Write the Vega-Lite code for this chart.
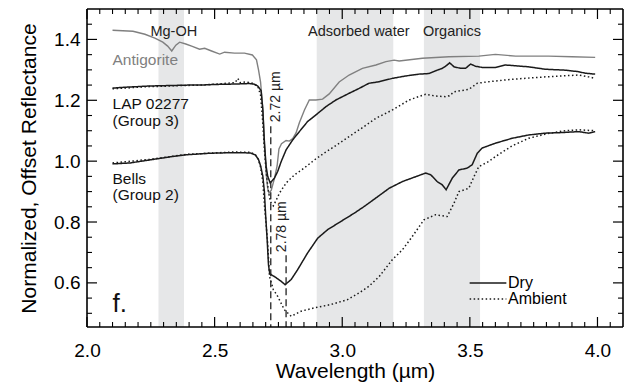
{
  "$schema": "https://vega.github.io/schema/vega-lite/v6.json",
  "width": 536,
  "height": 318,
  "autosize": "none",
  "padding": {"left": 87, "top": 9, "right": 6, "bottom": 59},
  "config": {
    "font": "Liberation Sans",
    "view": {"stroke": null},
    "axis": {
      "domain": false, "ticks": false,
      "labelFontSize": 19, "labelColor": "#000", "titleFontSize": 21, "titleFontWeight": "normal",
      "titleColor": "#000", "grid": false, "labelFlush": false, "labelOverlap": false, "labelBound": false
    }
  },
  "datasets": {
    "bands": [
      {"feature": "Mg-OH", "start": 2.28, "end": 2.38},
      {"feature": "Adsorbed water", "start": 2.9, "end": 3.2},
      {"feature": "Organics", "start": 3.32, "end": 3.54}
    ],
    "bandLabels": [
      {"label": "Mg-OH", "wl": 2.34, "y": 1.425},
      {"label": "Adsorbed water", "wl": 3.065, "y": 1.425},
      {"label": "Organics", "wl": 3.43, "y": 1.425}
    ],
    "xticks": [
      {"wl": 2.0, "kind": "major"}, {"wl": 2.05, "kind": "minor"}, {"wl": 2.1, "kind": "minor"}, {"wl": 2.15, "kind": "minor"},
      {"wl": 2.2, "kind": "minor"}, {"wl": 2.25, "kind": "minor"}, {"wl": 2.3, "kind": "minor"}, {"wl": 2.35, "kind": "minor"},
      {"wl": 2.4, "kind": "minor"}, {"wl": 2.45, "kind": "minor"}, {"wl": 2.5, "kind": "major"}, {"wl": 2.55, "kind": "minor"},
      {"wl": 2.6, "kind": "minor"}, {"wl": 2.65, "kind": "minor"}, {"wl": 2.7, "kind": "minor"}, {"wl": 2.75, "kind": "minor"},
      {"wl": 2.8, "kind": "minor"}, {"wl": 2.85, "kind": "minor"}, {"wl": 2.9, "kind": "minor"}, {"wl": 2.95, "kind": "minor"},
      {"wl": 3.0, "kind": "major"}, {"wl": 3.05, "kind": "minor"}, {"wl": 3.1, "kind": "minor"}, {"wl": 3.15, "kind": "minor"},
      {"wl": 3.2, "kind": "minor"}, {"wl": 3.25, "kind": "minor"}, {"wl": 3.3, "kind": "minor"}, {"wl": 3.35, "kind": "minor"},
      {"wl": 3.4, "kind": "minor"}, {"wl": 3.45, "kind": "minor"}, {"wl": 3.5, "kind": "major"}, {"wl": 3.55, "kind": "minor"},
      {"wl": 3.6, "kind": "minor"}, {"wl": 3.65, "kind": "minor"}, {"wl": 3.7, "kind": "minor"}, {"wl": 3.75, "kind": "minor"},
      {"wl": 3.8, "kind": "minor"}, {"wl": 3.85, "kind": "minor"}, {"wl": 3.9, "kind": "minor"}, {"wl": 3.95, "kind": "minor"},
      {"wl": 4.0, "kind": "major"}, {"wl": 4.05, "kind": "minor"}
    ],
    "yticks": [
      {"r": 0.5, "kind": "minor"}, {"r": 0.55, "kind": "minor"}, {"r": 0.6, "kind": "major"}, {"r": 0.65, "kind": "minor"},
      {"r": 0.7, "kind": "minor"}, {"r": 0.75, "kind": "minor"}, {"r": 0.8, "kind": "major"}, {"r": 0.85, "kind": "minor"},
      {"r": 0.9, "kind": "minor"}, {"r": 0.95, "kind": "minor"}, {"r": 1.0, "kind": "major"}, {"r": 1.05, "kind": "minor"},
      {"r": 1.1, "kind": "minor"}, {"r": 1.15, "kind": "minor"}, {"r": 1.2, "kind": "major"}, {"r": 1.25, "kind": "minor"},
      {"r": 1.3, "kind": "minor"}, {"r": 1.35, "kind": "minor"}, {"r": 1.4, "kind": "major"}, {"r": 1.45, "kind": "minor"}
    ],
    "antigorite": [
      {"wl": 2.1, "refl": 1.43}, {"wl": 2.18, "refl": 1.427}, {"wl": 2.227, "refl": 1.417}, {"wl": 2.266, "refl": 1.404},
      {"wl": 2.297, "refl": 1.391}, {"wl": 2.316, "refl": 1.378}, {"wl": 2.332, "refl": 1.362}, {"wl": 2.348, "refl": 1.381},
      {"wl": 2.363, "refl": 1.391}, {"wl": 2.387, "refl": 1.385}, {"wl": 2.41, "refl": 1.378}, {"wl": 2.441, "refl": 1.368},
      {"wl": 2.461, "refl": 1.371}, {"wl": 2.488, "refl": 1.362}, {"wl": 2.52, "refl": 1.352}, {"wl": 2.539, "refl": 1.358},
      {"wl": 2.578, "refl": 1.355}, {"wl": 2.617, "refl": 1.355}, {"wl": 2.648, "refl": 1.349}, {"wl": 2.664, "refl": 1.333},
      {"wl": 2.672, "refl": 1.3}, {"wl": 2.68, "refl": 1.26}, {"wl": 2.688, "refl": 1.18}, {"wl": 2.695, "refl": 1.07},
      {"wl": 2.702, "refl": 0.96}, {"wl": 2.708, "refl": 0.91}, {"wl": 2.713, "refl": 0.895}, {"wl": 2.722, "refl": 0.905},
      {"wl": 2.735, "refl": 0.945}, {"wl": 2.745, "refl": 0.985}, {"wl": 2.752, "refl": 1.04}, {"wl": 2.762, "refl": 1.057},
      {"wl": 2.78, "refl": 1.068}, {"wl": 2.793, "refl": 1.066}, {"wl": 2.806, "refl": 1.074}, {"wl": 2.819, "refl": 1.093},
      {"wl": 2.832, "refl": 1.126}, {"wl": 2.852, "refl": 1.168}, {"wl": 2.871, "refl": 1.201}, {"wl": 2.897, "refl": 1.201},
      {"wl": 2.923, "refl": 1.204}, {"wl": 2.949, "refl": 1.221}, {"wl": 2.988, "refl": 1.26}, {"wl": 3.027, "refl": 1.283},
      {"wl": 3.079, "refl": 1.305}, {"wl": 3.132, "refl": 1.316}, {"wl": 3.171, "refl": 1.327}, {"wl": 3.203, "refl": 1.332},
      {"wl": 3.223, "refl": 1.329}, {"wl": 3.314, "refl": 1.338}, {"wl": 3.418, "refl": 1.343}, {"wl": 3.535, "refl": 1.345},
      {"wl": 3.6, "refl": 1.351}, {"wl": 3.679, "refl": 1.345}, {"wl": 3.808, "refl": 1.345}, {"wl": 3.9, "refl": 1.343},
      {"wl": 3.991, "refl": 1.341}
    ],
    "spectra": [
      {"sample": "LAP 02277", "cond": "Dry", "wl": 2.1, "refl": 1.24},
      {"sample": "LAP 02277", "cond": "Dry", "wl": 2.15, "refl": 1.243},
      {"sample": "LAP 02277", "cond": "Dry", "wl": 2.2, "refl": 1.245},
      {"sample": "LAP 02277", "cond": "Dry", "wl": 2.246, "refl": 1.247},
      {"sample": "LAP 02277", "cond": "Dry", "wl": 2.3, "refl": 1.248},
      {"sample": "LAP 02277", "cond": "Dry", "wl": 2.35, "refl": 1.249},
      {"sample": "LAP 02277", "cond": "Dry", "wl": 2.4, "refl": 1.25},
      {"sample": "LAP 02277", "cond": "Dry", "wl": 2.441, "refl": 1.25},
      {"sample": "LAP 02277", "cond": "Dry", "wl": 2.5, "refl": 1.252},
      {"sample": "LAP 02277", "cond": "Dry", "wl": 2.559, "refl": 1.253},
      {"sample": "LAP 02277", "cond": "Dry", "wl": 2.6, "refl": 1.254},
      {"sample": "LAP 02277", "cond": "Dry", "wl": 2.637, "refl": 1.255},
      {"sample": "LAP 02277", "cond": "Dry", "wl": 2.655, "refl": 1.253},
      {"sample": "LAP 02277", "cond": "Dry", "wl": 2.669, "refl": 1.247},
      {"sample": "LAP 02277", "cond": "Dry", "wl": 2.682, "refl": 1.232},
      {"sample": "LAP 02277", "cond": "Dry", "wl": 2.689, "refl": 1.168},
      {"sample": "LAP 02277", "cond": "Dry", "wl": 2.695, "refl": 1.06},
      {"sample": "LAP 02277", "cond": "Dry", "wl": 2.702, "refl": 0.982},
      {"sample": "LAP 02277", "cond": "Dry", "wl": 2.708, "refl": 0.95},
      {"sample": "LAP 02277", "cond": "Dry", "wl": 2.718, "refl": 0.928},
      {"sample": "LAP 02277", "cond": "Dry", "wl": 2.734, "refl": 0.944},
      {"sample": "LAP 02277", "cond": "Dry", "wl": 2.747, "refl": 0.966},
      {"sample": "LAP 02277", "cond": "Dry", "wl": 2.761, "refl": 0.999},
      {"sample": "LAP 02277", "cond": "Dry", "wl": 2.78, "refl": 1.037},
      {"sample": "LAP 02277", "cond": "Dry", "wl": 2.806, "refl": 1.07},
      {"sample": "LAP 02277", "cond": "Dry", "wl": 2.832, "refl": 1.097},
      {"sample": "LAP 02277", "cond": "Dry", "wl": 2.864, "refl": 1.13},
      {"sample": "LAP 02277", "cond": "Dry", "wl": 2.897, "refl": 1.152},
      {"sample": "LAP 02277", "cond": "Dry", "wl": 2.936, "refl": 1.179},
      {"sample": "LAP 02277", "cond": "Dry", "wl": 2.975, "refl": 1.201},
      {"sample": "LAP 02277", "cond": "Dry", "wl": 3.027, "refl": 1.223},
      {"sample": "LAP 02277", "cond": "Dry", "wl": 3.066, "refl": 1.239},
      {"sample": "LAP 02277", "cond": "Dry", "wl": 3.105, "refl": 1.256},
      {"sample": "LAP 02277", "cond": "Dry", "wl": 3.145, "refl": 1.261},
      {"sample": "LAP 02277", "cond": "Dry", "wl": 3.196, "refl": 1.272},
      {"sample": "LAP 02277", "cond": "Dry", "wl": 3.249, "refl": 1.28},
      {"sample": "LAP 02277", "cond": "Dry", "wl": 3.301, "refl": 1.286},
      {"sample": "LAP 02277", "cond": "Dry", "wl": 3.34, "refl": 1.288},
      {"sample": "LAP 02277", "cond": "Dry", "wl": 3.366, "refl": 1.297},
      {"sample": "LAP 02277", "cond": "Dry", "wl": 3.392, "refl": 1.305},
      {"sample": "LAP 02277", "cond": "Dry", "wl": 3.405, "refl": 1.312},
      {"sample": "LAP 02277", "cond": "Dry", "wl": 3.421, "refl": 1.323},
      {"sample": "LAP 02277", "cond": "Dry", "wl": 3.438, "refl": 1.31},
      {"sample": "LAP 02277", "cond": "Dry", "wl": 3.464, "refl": 1.305},
      {"sample": "LAP 02277", "cond": "Dry", "wl": 3.483, "refl": 1.305},
      {"sample": "LAP 02277", "cond": "Dry", "wl": 3.503, "refl": 1.319},
      {"sample": "LAP 02277", "cond": "Dry", "wl": 3.522, "refl": 1.312},
      {"sample": "LAP 02277", "cond": "Dry", "wl": 3.548, "refl": 1.308},
      {"sample": "LAP 02277", "cond": "Dry", "wl": 3.6, "refl": 1.308},
      {"sample": "LAP 02277", "cond": "Dry", "wl": 3.639, "refl": 1.316},
      {"sample": "LAP 02277", "cond": "Dry", "wl": 3.73, "refl": 1.31},
      {"sample": "LAP 02277", "cond": "Dry", "wl": 3.796, "refl": 1.302},
      {"sample": "LAP 02277", "cond": "Dry", "wl": 3.874, "refl": 1.299},
      {"sample": "LAP 02277", "cond": "Dry", "wl": 3.926, "refl": 1.294},
      {"sample": "LAP 02277", "cond": "Dry", "wl": 3.952, "refl": 1.289},
      {"sample": "LAP 02277", "cond": "Dry", "wl": 3.991, "refl": 1.286},
      {"sample": "LAP 02277", "cond": "Ambient", "wl": 2.1, "refl": 1.238},
      {"sample": "LAP 02277", "cond": "Ambient", "wl": 2.15, "refl": 1.24},
      {"sample": "LAP 02277", "cond": "Ambient", "wl": 2.2, "refl": 1.243},
      {"sample": "LAP 02277", "cond": "Ambient", "wl": 2.246, "refl": 1.245},
      {"sample": "LAP 02277", "cond": "Ambient", "wl": 2.3, "refl": 1.246},
      {"sample": "LAP 02277", "cond": "Ambient", "wl": 2.35, "refl": 1.248},
      {"sample": "LAP 02277", "cond": "Ambient", "wl": 2.4, "refl": 1.249},
      {"sample": "LAP 02277", "cond": "Ambient", "wl": 2.45, "refl": 1.25},
      {"sample": "LAP 02277", "cond": "Ambient", "wl": 2.5, "refl": 1.253},
      {"sample": "LAP 02277", "cond": "Ambient", "wl": 2.55, "refl": 1.256},
      {"sample": "LAP 02277", "cond": "Ambient", "wl": 2.58, "refl": 1.258},
      {"sample": "LAP 02277", "cond": "Ambient", "wl": 2.591, "refl": 1.272},
      {"sample": "LAP 02277", "cond": "Ambient", "wl": 2.6, "refl": 1.258},
      {"sample": "LAP 02277", "cond": "Ambient", "wl": 2.62, "refl": 1.26},
      {"sample": "LAP 02277", "cond": "Ambient", "wl": 2.645, "refl": 1.257},
      {"sample": "LAP 02277", "cond": "Ambient", "wl": 2.669, "refl": 1.247},
      {"sample": "LAP 02277", "cond": "Ambient", "wl": 2.68, "refl": 1.217},
      {"sample": "LAP 02277", "cond": "Ambient", "wl": 2.688, "refl": 1.135},
      {"sample": "LAP 02277", "cond": "Ambient", "wl": 2.695, "refl": 1.037},
      {"sample": "LAP 02277", "cond": "Ambient", "wl": 2.703, "refl": 0.955},
      {"sample": "LAP 02277", "cond": "Ambient", "wl": 2.711, "refl": 0.899},
      {"sample": "LAP 02277", "cond": "Ambient", "wl": 2.719, "refl": 0.866},
      {"sample": "LAP 02277", "cond": "Ambient", "wl": 2.73, "refl": 0.853},
      {"sample": "LAP 02277", "cond": "Ambient", "wl": 2.742, "refl": 0.873},
      {"sample": "LAP 02277", "cond": "Ambient", "wl": 2.754, "refl": 0.895},
      {"sample": "LAP 02277", "cond": "Ambient", "wl": 2.781, "refl": 0.929},
      {"sample": "LAP 02277", "cond": "Ambient", "wl": 2.813, "refl": 0.955},
      {"sample": "LAP 02277", "cond": "Ambient", "wl": 2.852, "refl": 0.978},
      {"sample": "LAP 02277", "cond": "Ambient", "wl": 2.891, "refl": 1.004},
      {"sample": "LAP 02277", "cond": "Ambient", "wl": 2.93, "refl": 1.027},
      {"sample": "LAP 02277", "cond": "Ambient", "wl": 2.969, "refl": 1.048},
      {"sample": "LAP 02277", "cond": "Ambient", "wl": 3.008, "refl": 1.07},
      {"sample": "LAP 02277", "cond": "Ambient", "wl": 3.047, "refl": 1.092},
      {"sample": "LAP 02277", "cond": "Ambient", "wl": 3.086, "refl": 1.114},
      {"sample": "LAP 02277", "cond": "Ambient", "wl": 3.132, "refl": 1.141},
      {"sample": "LAP 02277", "cond": "Ambient", "wl": 3.196, "refl": 1.168},
      {"sample": "LAP 02277", "cond": "Ambient", "wl": 3.262, "refl": 1.201},
      {"sample": "LAP 02277", "cond": "Ambient", "wl": 3.327, "refl": 1.22},
      {"sample": "LAP 02277", "cond": "Ambient", "wl": 3.366, "refl": 1.214},
      {"sample": "LAP 02277", "cond": "Ambient", "wl": 3.405, "refl": 1.212},
      {"sample": "LAP 02277", "cond": "Ambient", "wl": 3.42, "refl": 1.215},
      {"sample": "LAP 02277", "cond": "Ambient", "wl": 3.438, "refl": 1.228},
      {"sample": "LAP 02277", "cond": "Ambient", "wl": 3.496, "refl": 1.236},
      {"sample": "LAP 02277", "cond": "Ambient", "wl": 3.529, "refl": 1.256},
      {"sample": "LAP 02277", "cond": "Ambient", "wl": 3.574, "refl": 1.261},
      {"sample": "LAP 02277", "cond": "Ambient", "wl": 3.665, "refl": 1.269},
      {"sample": "LAP 02277", "cond": "Ambient", "wl": 3.796, "refl": 1.277},
      {"sample": "LAP 02277", "cond": "Ambient", "wl": 3.926, "refl": 1.283},
      {"sample": "LAP 02277", "cond": "Ambient", "wl": 3.965, "refl": 1.277},
      {"sample": "LAP 02277", "cond": "Ambient", "wl": 3.991, "refl": 1.272},
      {"sample": "Bells", "cond": "Dry", "wl": 2.1, "refl": 0.991},
      {"sample": "Bells", "cond": "Dry", "wl": 2.168, "refl": 0.994},
      {"sample": "Bells", "cond": "Dry", "wl": 2.246, "refl": 1.004},
      {"sample": "Bells", "cond": "Dry", "wl": 2.324, "refl": 1.014},
      {"sample": "Bells", "cond": "Dry", "wl": 2.389, "refl": 1.021},
      {"sample": "Bells", "cond": "Dry", "wl": 2.48, "refl": 1.026},
      {"sample": "Bells", "cond": "Dry", "wl": 2.571, "refl": 1.028},
      {"sample": "Bells", "cond": "Dry", "wl": 2.64, "refl": 1.027},
      {"sample": "Bells", "cond": "Dry", "wl": 2.66, "refl": 1.02},
      {"sample": "Bells", "cond": "Dry", "wl": 2.672, "refl": 1.005},
      {"sample": "Bells", "cond": "Dry", "wl": 2.68, "refl": 0.985},
      {"sample": "Bells", "cond": "Dry", "wl": 2.689, "refl": 0.95},
      {"sample": "Bells", "cond": "Dry", "wl": 2.695, "refl": 0.9},
      {"sample": "Bells", "cond": "Dry", "wl": 2.7, "refl": 0.82},
      {"sample": "Bells", "cond": "Dry", "wl": 2.706, "refl": 0.74},
      {"sample": "Bells", "cond": "Dry", "wl": 2.711, "refl": 0.66},
      {"sample": "Bells", "cond": "Dry", "wl": 2.716, "refl": 0.63},
      {"sample": "Bells", "cond": "Dry", "wl": 2.734, "refl": 0.621},
      {"sample": "Bells", "cond": "Dry", "wl": 2.761, "refl": 0.605},
      {"sample": "Bells", "cond": "Dry", "wl": 2.776, "refl": 0.594},
      {"sample": "Bells", "cond": "Dry", "wl": 2.8, "refl": 0.611},
      {"sample": "Bells", "cond": "Dry", "wl": 2.825, "refl": 0.643},
      {"sample": "Bells", "cond": "Dry", "wl": 2.864, "refl": 0.698},
      {"sample": "Bells", "cond": "Dry", "wl": 2.904, "refl": 0.747},
      {"sample": "Bells", "cond": "Dry", "wl": 2.943, "refl": 0.775},
      {"sample": "Bells", "cond": "Dry", "wl": 2.995, "refl": 0.802},
      {"sample": "Bells", "cond": "Dry", "wl": 3.047, "refl": 0.829},
      {"sample": "Bells", "cond": "Dry", "wl": 3.086, "refl": 0.851},
      {"sample": "Bells", "cond": "Dry", "wl": 3.132, "refl": 0.879},
      {"sample": "Bells", "cond": "Dry", "wl": 3.184, "refl": 0.911},
      {"sample": "Bells", "cond": "Dry", "wl": 3.236, "refl": 0.933},
      {"sample": "Bells", "cond": "Dry", "wl": 3.288, "refl": 0.949},
      {"sample": "Bells", "cond": "Dry", "wl": 3.327, "refl": 0.961},
      {"sample": "Bells", "cond": "Dry", "wl": 3.347, "refl": 0.955},
      {"sample": "Bells", "cond": "Dry", "wl": 3.372, "refl": 0.933},
      {"sample": "Bells", "cond": "Dry", "wl": 3.392, "refl": 0.922},
      {"sample": "Bells", "cond": "Dry", "wl": 3.407, "refl": 0.906},
      {"sample": "Bells", "cond": "Dry", "wl": 3.431, "refl": 0.944},
      {"sample": "Bells", "cond": "Dry", "wl": 3.457, "refl": 0.971},
      {"sample": "Bells", "cond": "Dry", "wl": 3.489, "refl": 0.977},
      {"sample": "Bells", "cond": "Dry", "wl": 3.509, "refl": 0.988},
      {"sample": "Bells", "cond": "Dry", "wl": 3.529, "refl": 1.026},
      {"sample": "Bells", "cond": "Dry", "wl": 3.548, "refl": 1.043},
      {"sample": "Bells", "cond": "Dry", "wl": 3.6, "refl": 1.059},
      {"sample": "Bells", "cond": "Dry", "wl": 3.665, "refl": 1.075},
      {"sample": "Bells", "cond": "Dry", "wl": 3.73, "refl": 1.086},
      {"sample": "Bells", "cond": "Dry", "wl": 3.796, "refl": 1.092},
      {"sample": "Bells", "cond": "Dry", "wl": 3.861, "refl": 1.094},
      {"sample": "Bells", "cond": "Dry", "wl": 3.926, "refl": 1.097},
      {"sample": "Bells", "cond": "Dry", "wl": 3.965, "refl": 1.092},
      {"sample": "Bells", "cond": "Dry", "wl": 3.991, "refl": 1.097},
      {"sample": "Bells", "cond": "Ambient", "wl": 2.1, "refl": 0.994},
      {"sample": "Bells", "cond": "Ambient", "wl": 2.246, "refl": 1.006},
      {"sample": "Bells", "cond": "Ambient", "wl": 2.389, "refl": 1.022},
      {"sample": "Bells", "cond": "Ambient", "wl": 2.571, "refl": 1.03},
      {"sample": "Bells", "cond": "Ambient", "wl": 2.64, "refl": 1.029},
      {"sample": "Bells", "cond": "Ambient", "wl": 2.66, "refl": 1.021},
      {"sample": "Bells", "cond": "Ambient", "wl": 2.672, "refl": 1.005},
      {"sample": "Bells", "cond": "Ambient", "wl": 2.68, "refl": 0.981},
      {"sample": "Bells", "cond": "Ambient", "wl": 2.689, "refl": 0.932},
      {"sample": "Bells", "cond": "Ambient", "wl": 2.695, "refl": 0.857},
      {"sample": "Bells", "cond": "Ambient", "wl": 2.707, "refl": 0.742},
      {"sample": "Bells", "cond": "Ambient", "wl": 2.715, "refl": 0.621},
      {"sample": "Bells", "cond": "Ambient", "wl": 2.73, "refl": 0.578},
      {"sample": "Bells", "cond": "Ambient", "wl": 2.747, "refl": 0.556},
      {"sample": "Bells", "cond": "Ambient", "wl": 2.773, "refl": 0.512},
      {"sample": "Bells", "cond": "Ambient", "wl": 2.8, "refl": 0.49},
      {"sample": "Bells", "cond": "Ambient", "wl": 2.839, "refl": 0.507},
      {"sample": "Bells", "cond": "Ambient", "wl": 2.891, "refl": 0.518},
      {"sample": "Bells", "cond": "Ambient", "wl": 2.956, "refl": 0.529},
      {"sample": "Bells", "cond": "Ambient", "wl": 3.021, "refl": 0.545},
      {"sample": "Bells", "cond": "Ambient", "wl": 3.066, "refl": 0.567},
      {"sample": "Bells", "cond": "Ambient", "wl": 3.105, "refl": 0.589},
      {"sample": "Bells", "cond": "Ambient", "wl": 3.145, "refl": 0.621},
      {"sample": "Bells", "cond": "Ambient", "wl": 3.196, "refl": 0.676},
      {"sample": "Bells", "cond": "Ambient", "wl": 3.236, "refl": 0.709},
      {"sample": "Bells", "cond": "Ambient", "wl": 3.275, "refl": 0.753},
      {"sample": "Bells", "cond": "Ambient", "wl": 3.32, "refl": 0.807},
      {"sample": "Bells", "cond": "Ambient", "wl": 3.366, "refl": 0.824},
      {"sample": "Bells", "cond": "Ambient", "wl": 3.411, "refl": 0.818},
      {"sample": "Bells", "cond": "Ambient", "wl": 3.438, "refl": 0.862},
      {"sample": "Bells", "cond": "Ambient", "wl": 3.457, "refl": 0.9},
      {"sample": "Bells", "cond": "Ambient", "wl": 3.496, "refl": 0.911},
      {"sample": "Bells", "cond": "Ambient", "wl": 3.516, "refl": 0.949},
      {"sample": "Bells", "cond": "Ambient", "wl": 3.535, "refl": 0.982},
      {"sample": "Bells", "cond": "Ambient", "wl": 3.574, "refl": 0.999},
      {"sample": "Bells", "cond": "Ambient", "wl": 3.6, "refl": 1.015},
      {"sample": "Bells", "cond": "Ambient", "wl": 3.665, "refl": 1.05},
      {"sample": "Bells", "cond": "Ambient", "wl": 3.73, "refl": 1.075},
      {"sample": "Bells", "cond": "Ambient", "wl": 3.796, "refl": 1.089},
      {"sample": "Bells", "cond": "Ambient", "wl": 3.861, "refl": 1.099},
      {"sample": "Bells", "cond": "Ambient", "wl": 3.926, "refl": 1.103},
      {"sample": "Bells", "cond": "Ambient", "wl": 3.991, "refl": 1.1}
    ],
    "vlines": [
      {"label": "2.72 µm", "wl": 2.72, "top": 1.115, "labelWl": 2.74, "labelY": 1.128},
      {"label": "2.78 µm", "wl": 2.78, "top": 0.691, "labelWl": 2.763, "labelY": 0.701}
    ],
    "sampleLabels": [
      {"label": "LAP 02277", "wl": 2.1, "y": 1.172},
      {"label": "(Group 3)", "wl": 2.1, "y": 1.114},
      {"label": "Bells", "wl": 2.1, "y": 0.926},
      {"label": "(Group 2)", "wl": 2.1, "y": 0.872}
    ],
    "antigoriteLabel": [{"label": "Antigorite", "wl": 2.1, "y": 1.316}],
    "panel": [{"label": "f.", "wl": 2.1, "y": 0.505}]
  },
  "layer": [
    {
      "data": {"name": "bands"},
      "mark": {"type": "rect", "color": "#e6e7e8"},
      "encoding": {
        "x": {
          "field": "start", "type": "quantitative",
          "scale": {"domain": [2.0, 4.1], "nice": false, "zero": false},
          "axis": {
            "orient": "bottom", "title": "Wavelength (µm)", "titlePadding": 0,
            "values": [2, 2.5, 3, 3.5, 4], "format": ".1f", "labelPadding": 14
          }
        },
        "x2": {"field": "end"}
      }
    },
    {
      "data": {"name": "bandLabels"},
      "mark": {"type": "text", "fontSize": 14.5, "color": "#222", "align": "center", "baseline": "middle"},
      "encoding": {
        "x": {"field": "wl", "type": "quantitative", "scale": {"domain": [2.0, 4.1], "nice": false, "zero": false}, "axis": null},
        "y": {"field": "y", "type": "quantitative", "scale": {"domain": [0.455, 1.5], "nice": false, "zero": false}, "axis": null},
        "text": {"field": "label"}
      }
    },
    {
      "data": {"name": "antigorite"},
      "mark": {"type": "line", "color": "#808080", "strokeWidth": 1.4},
      "encoding": {
        "x": {"field": "wl", "type": "quantitative", "scale": {"domain": [2.0, 4.1], "nice": false, "zero": false}, "axis": null},
        "y": {"field": "refl", "type": "quantitative", "scale": {"domain": [0.455, 1.5], "nice": false, "zero": false}, "axis": null}
      }
    },
    {
      "data": {"name": "spectra"},
      "mark": {"type": "line", "color": "#1a1a1a", "strokeWidth": 1.5},
      "encoding": {
        "x": {"field": "wl", "type": "quantitative", "scale": {"domain": [2.0, 4.1], "nice": false, "zero": false}, "axis": null},
        "y": {
          "field": "refl", "type": "quantitative",
          "scale": {"domain": [0.455, 1.5], "nice": false, "zero": false},
          "axis": {
            "orient": "left", "title": "Normalized, Offset Reflectance", "titlePadding": 14,
            "values": [0.6, 0.8, 1.0, 1.2, 1.4], "format": ".1f", "labelPadding": 7
          }
        },
        "detail": {"field": "sample"},
        "strokeDash": {
          "field": "cond", "type": "nominal",
          "scale": {"domain": ["Dry", "Ambient"], "range": [[1, 0], [1.5, 2.5]]},
          "legend": {
            "orient": "none", "legendX": 393, "legendY": 266, "title": null, "padding": 0,
            "symbolType": "M-3.67,0H3.67", "symbolSize": 100, "symbolStrokeWidth": 1.5,
            "symbolStrokeColor": "#1a1a1a", "labelFontSize": 16, "labelColor": "#000",
            "labelOffset": 12, "rowPadding": -1
          }
        }
      }
    },
    {
      "data": {"name": "vlines"},
      "mark": {"type": "rule", "color": "#222", "strokeWidth": 1.3, "strokeDash": [7, 4]},
      "encoding": {
        "x": {"field": "wl", "type": "quantitative", "scale": {"domain": [2.0, 4.1], "nice": false, "zero": false}, "axis": null},
        "y": {"field": "top", "type": "quantitative", "scale": {"domain": [0.455, 1.5], "nice": false, "zero": false}, "axis": null},
        "y2": {"datum": 0.455}
      }
    },
    {
      "data": {"name": "vlines"},
      "mark": {"type": "text", "fontSize": 14, "color": "#222", "angle": 270, "align": "left", "baseline": "middle"},
      "encoding": {
        "x": {"field": "labelWl", "type": "quantitative", "scale": {"domain": [2.0, 4.1], "nice": false, "zero": false}, "axis": null},
        "y": {"field": "labelY", "type": "quantitative", "scale": {"domain": [0.455, 1.5], "nice": false, "zero": false}, "axis": null},
        "text": {"field": "label"}
      }
    },
    {
      "data": {"name": "sampleLabels"},
      "mark": {"type": "text", "fontSize": 15.5, "color": "#111", "align": "left", "baseline": "alphabetic"},
      "encoding": {
        "x": {"field": "wl", "type": "quantitative", "scale": {"domain": [2.0, 4.1], "nice": false, "zero": false}, "axis": null},
        "y": {"field": "y", "type": "quantitative", "scale": {"domain": [0.455, 1.5], "nice": false, "zero": false}, "axis": null},
        "text": {"field": "label"}
      }
    },
    {
      "data": {"name": "antigoriteLabel"},
      "mark": {"type": "text", "fontSize": 15.5, "color": "#808080", "align": "left", "baseline": "alphabetic"},
      "encoding": {
        "x": {"field": "wl", "type": "quantitative", "scale": {"domain": [2.0, 4.1], "nice": false, "zero": false}, "axis": null},
        "y": {"field": "y", "type": "quantitative", "scale": {"domain": [0.455, 1.5], "nice": false, "zero": false}, "axis": null},
        "text": {"field": "label"}
      }
    },
    {
      "data": {"name": "panel"},
      "mark": {"type": "text", "fontSize": 26, "color": "#111", "align": "left", "baseline": "alphabetic"},
      "encoding": {
        "x": {"field": "wl", "type": "quantitative", "scale": {"domain": [2.0, 4.1], "nice": false, "zero": false}, "axis": null},
        "y": {"field": "y", "type": "quantitative", "scale": {"domain": [0.455, 1.5], "nice": false, "zero": false}, "axis": null},
        "text": {"field": "label"}
      }
    },
    {
      "data": {"name": "panel"},
      "mark": {"type": "rule", "color": "#000", "strokeWidth": 1.6},
      "encoding": {
        "x": {"datum": 2.0, "type": "quantitative", "scale": {"domain": [2.0, 4.1], "nice": false, "zero": false}, "axis": null},
        "x2": {"datum": 4.1},
        "y": {"datum": 1.5, "type": "quantitative", "scale": {"domain": [0.455, 1.5], "nice": false, "zero": false}, "axis": null}
      }
    },
    {
      "data": {"name": "panel"},
      "mark": {"type": "rule", "color": "#000", "strokeWidth": 1.6},
      "encoding": {
        "x": {"datum": 2.0, "type": "quantitative", "scale": {"domain": [2.0, 4.1], "nice": false, "zero": false}, "axis": null},
        "x2": {"datum": 4.1},
        "y": {"datum": 0.455, "type": "quantitative", "scale": {"domain": [0.455, 1.5], "nice": false, "zero": false}, "axis": null}
      }
    },
    {
      "data": {"name": "panel"},
      "mark": {"type": "rule", "color": "#000", "strokeWidth": 1.6},
      "encoding": {
        "x": {"datum": 4.1, "type": "quantitative", "scale": {"domain": [2.0, 4.1], "nice": false, "zero": false}, "axis": null},
        "y": {"datum": 0.455, "type": "quantitative", "scale": {"domain": [0.455, 1.5], "nice": false, "zero": false}, "axis": null},
        "y2": {"datum": 1.5}
      }
    },
    {
      "data": {"name": "panel"},
      "mark": {"type": "rule", "color": "#000", "strokeWidth": 1.6},
      "encoding": {
        "x": {"datum": 2.0, "type": "quantitative", "scale": {"domain": [2.0, 4.1], "nice": false, "zero": false}, "axis": null},
        "y": {"datum": 0.455, "type": "quantitative", "scale": {"domain": [0.455, 1.5], "nice": false, "zero": false}, "axis": null},
        "y2": {"datum": 1.5}
      }
    },
    {
      "data": {"name": "xticks"},
      "transform": [{"filter": "datum.kind == 'major'"}],
      "mark": {"type": "rule", "color": "#000", "strokeWidth": 1.2},
      "encoding": {
        "x": {"field": "wl", "type": "quantitative", "scale": {"domain": [2.0, 4.1], "nice": false, "zero": false}, "axis": null},
        "y": {"datum": 0.455, "type": "quantitative", "scale": {"domain": [0.455, 1.5], "nice": false, "zero": false}, "axis": null},
        "y2": {"datum": 0.4879}
      }
    },
    {
      "data": {"name": "xticks"},
      "transform": [{"filter": "datum.kind == 'major'"}],
      "mark": {"type": "rule", "color": "#000", "strokeWidth": 1.2},
      "encoding": {
        "x": {"field": "wl", "type": "quantitative", "scale": {"domain": [2.0, 4.1], "nice": false, "zero": false}, "axis": null},
        "y": {"datum": 1.5, "type": "quantitative", "scale": {"domain": [0.455, 1.5], "nice": false, "zero": false}, "axis": null},
        "y2": {"datum": 1.4671}
      }
    },
    {
      "data": {"name": "xticks"},
      "transform": [{"filter": "datum.kind == 'minor'"}],
      "mark": {"type": "rule", "color": "#000", "strokeWidth": 1.1},
      "encoding": {
        "x": {"field": "wl", "type": "quantitative", "scale": {"domain": [2.0, 4.1], "nice": false, "zero": false}, "axis": null},
        "y": {"datum": 0.455, "type": "quantitative", "scale": {"domain": [0.455, 1.5], "nice": false, "zero": false}, "axis": null},
        "y2": {"datum": 0.4714}
      }
    },
    {
      "data": {"name": "xticks"},
      "transform": [{"filter": "datum.kind == 'minor'"}],
      "mark": {"type": "rule", "color": "#000", "strokeWidth": 1.1},
      "encoding": {
        "x": {"field": "wl", "type": "quantitative", "scale": {"domain": [2.0, 4.1], "nice": false, "zero": false}, "axis": null},
        "y": {"datum": 1.5, "type": "quantitative", "scale": {"domain": [0.455, 1.5], "nice": false, "zero": false}, "axis": null},
        "y2": {"datum": 1.4836}
      }
    },
    {
      "data": {"name": "yticks"},
      "transform": [{"filter": "datum.kind == 'major'"}],
      "mark": {"type": "rule", "color": "#000", "strokeWidth": 1.2},
      "encoding": {
        "y": {"field": "r", "type": "quantitative", "scale": {"domain": [0.455, 1.5], "nice": false, "zero": false}, "axis": null},
        "x": {"datum": 2.0, "type": "quantitative", "scale": {"domain": [2.0, 4.1], "nice": false, "zero": false}, "axis": null},
        "x2": {"datum": 2.0392}
      }
    },
    {
      "data": {"name": "yticks"},
      "transform": [{"filter": "datum.kind == 'major'"}],
      "mark": {"type": "rule", "color": "#000", "strokeWidth": 1.2},
      "encoding": {
        "y": {"field": "r", "type": "quantitative", "scale": {"domain": [0.455, 1.5], "nice": false, "zero": false}, "axis": null},
        "x": {"datum": 4.1, "type": "quantitative", "scale": {"domain": [2.0, 4.1], "nice": false, "zero": false}, "axis": null},
        "x2": {"datum": 4.0608}
      }
    },
    {
      "data": {"name": "yticks"},
      "transform": [{"filter": "datum.kind == 'minor'"}],
      "mark": {"type": "rule", "color": "#000", "strokeWidth": 1.1},
      "encoding": {
        "y": {"field": "r", "type": "quantitative", "scale": {"domain": [0.455, 1.5], "nice": false, "zero": false}, "axis": null},
        "x": {"datum": 2.0, "type": "quantitative", "scale": {"domain": [2.0, 4.1], "nice": false, "zero": false}, "axis": null},
        "x2": {"datum": 2.0196}
      }
    },
    {
      "data": {"name": "yticks"},
      "transform": [{"filter": "datum.kind == 'minor'"}],
      "mark": {"type": "rule", "color": "#000", "strokeWidth": 1.1},
      "encoding": {
        "y": {"field": "r", "type": "quantitative", "scale": {"domain": [0.455, 1.5], "nice": false, "zero": false}, "axis": null},
        "x": {"datum": 4.1, "type": "quantitative", "scale": {"domain": [2.0, 4.1], "nice": false, "zero": false}, "axis": null},
        "x2": {"datum": 4.0804}
      }
    }
  ],
  "resolve": {"axis": {"x": "independent", "y": "independent"}}
}
